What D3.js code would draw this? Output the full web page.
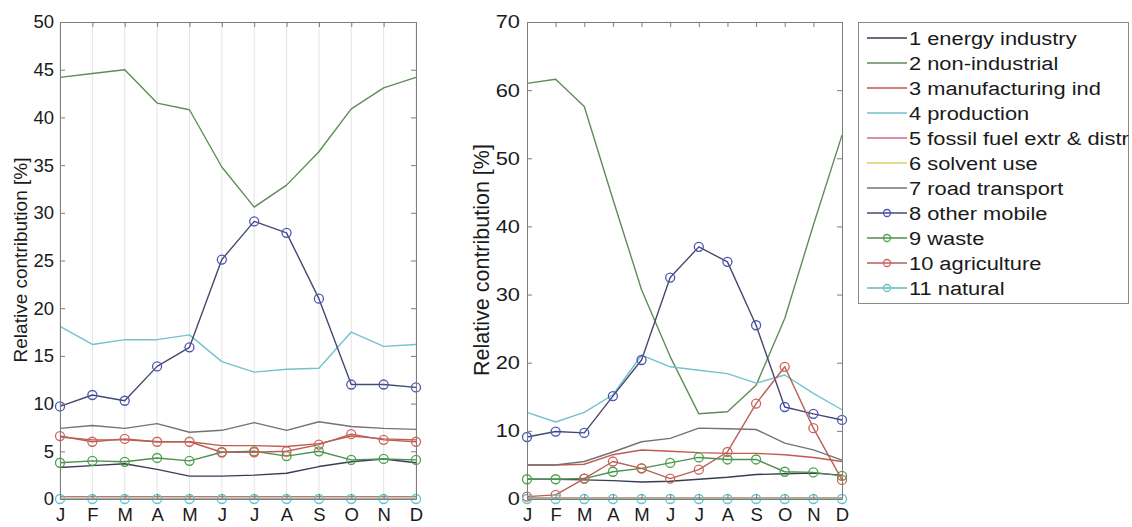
<!DOCTYPE html>
<html>
<head>
<meta charset="utf-8">
<script src="https://cdn.jsdelivr.net/npm/d3@7"></script>
<style>
  html, body { margin: 0; padding: 0; background: #fff; }
  svg { display: block; font-family: "Liberation Sans", Arial, sans-serif; }
</style>
</head>
<body>
<svg id="chart" width="1132" height="527"></svg>
<script>
// Month tick labels
const months = ["J", "F", "M", "A", "M", "J", "J", "A", "S", "O", "N", "D"];

// Source sectors (legend order)
const sectors = [
  "1 energy industry", "2 non-industrial", "3 manufacturing ind", "4 production",
  "5 fossil fuel extr & distr", "6 solvent use", "7 road transport", "8 other mobile",
  "9 waste", "10 agriculture", "11 natural"
];

// Left panel: relative contribution [%] per month
const leftEnergy        = [3.3, 3.5, 3.7, 3.1, 2.4, 2.4, 2.5, 2.7, 3.4, 3.9, 4.2, 3.8];
const leftNonIndustrial = [44.2, 44.6, 45.0, 41.5, 40.8, 34.8, 30.6, 32.9, 36.4, 40.9, 43.1, 44.2];
const leftManufacturing = [6.5, 6.2, 6.2, 6.0, 6.0, 5.6, 5.6, 5.5, 5.8, 6.6, 6.3, 6.2];
const leftProduction    = [18.1, 16.2, 16.7, 16.7, 17.2, 14.4, 13.3, 13.6, 13.7, 17.5, 16.0, 16.2];
const leftFossil        = [0.25, 0.25, 0.25, 0.25, 0.25, 0.25, 0.25, 0.25, 0.25, 0.25, 0.25, 0.25];
const leftSolvent       = [0.1, 0.1, 0.1, 0.1, 0.1, 0.1, 0.1, 0.1, 0.1, 0.1, 0.1, 0.1];
const leftRoad          = [7.4, 7.7, 7.4, 7.9, 7.0, 7.2, 8.0, 7.2, 8.1, 7.6, 7.4, 7.3];
const leftOtherMobile   = [9.7, 10.9, 10.3, 13.9, 15.9, 25.1, 29.1, 27.9, 21.0, 12.0, 12.0, 11.7];
const leftWaste         = [3.8, 4.0, 3.9, 4.3, 4.0, 4.9, 5.0, 4.5, 5.0, 4.1, 4.2, 4.1];
const leftAgriculture   = [6.6, 6.0, 6.3, 6.0, 6.0, 4.9, 4.9, 5.0, 5.7, 6.8, 6.2, 6.0];
const leftNatural       = [0, 0, 0, 0, 0, 0, 0, 0, 0, 0, 0, 0];

// Right panel: relative contribution [%] per month
const rightEnergy        = [2.9, 2.9, 2.8, 2.7, 2.5, 2.6, 2.9, 3.2, 3.6, 3.7, 3.8, 3.5];
const rightNonIndustrial = [61.0, 61.6, 57.6, 44.0, 30.7, 20.9, 12.5, 12.8, 16.7, 26.5, 40.2, 53.4];
const rightManufacturing = [5.0, 5.0, 5.1, 6.5, 7.2, 7.0, 6.8, 6.7, 6.7, 6.5, 6.1, 5.5];
const rightProduction    = [12.7, 11.3, 12.7, 15.3, 21.1, 19.4, 18.9, 18.4, 17.0, 18.2, 15.5, 13.1];
const rightFossil        = [0.2, 0.2, 0.2, 0.2, 0.2, 0.2, 0.2, 0.2, 0.2, 0.2, 0.2, 0.2];
const rightSolvent       = [0.1, 0.1, 0.1, 0.1, 0.1, 0.1, 0.1, 0.1, 0.1, 0.1, 0.1, 0.1];
const rightRoad          = [5.0, 5.0, 5.5, 6.9, 8.4, 8.9, 10.4, 10.3, 10.2, 8.2, 7.2, 5.7];
const rightOtherMobile   = [9.1, 9.9, 9.7, 15.1, 20.4, 32.5, 37.0, 34.8, 25.5, 13.5, 12.5, 11.6];
const rightWaste         = [2.9, 2.9, 3.0, 4.0, 4.5, 5.3, 6.1, 5.8, 5.8, 4.0, 3.9, 3.4];
const rightAgriculture   = [0.35, 0.6, 3.0, 5.5, 4.5, 3.0, 4.3, 6.9, 14.0, 19.4, 10.4, 2.8];
const rightNatural       = [0, 0, 0, 0, 0, 0, 0, 0, 0, 0, 0, 0];

// Line colour, marker colour (null = plain line)
const lineColors   = ["#3a3d52", "#5f8d58", "#c25a50", "#72c2cf", "#c8689a", "#d6cf6a",
                      "#737373", "#46496f", "#4f8f52", "#b5615a", "#6bb4bf"];
const markerColors = [null, null, null, null, null, null, null, "#4a55b8", "#47a447", "#d0645a", "#62c4d0"];

const svg = d3.select("#chart");

function drawPanel(cfg) {
  const x = d3.scaleLinear().domain([0, 11]).range([cfg.x0, cfg.x1]);
  const y = d3.scaleLinear().domain([0, cfg.yMax]).range([499, 22]);
  const g = svg.append("g");

  if (cfg.grid) {
    g.append("g").selectAll("line").data(d3.range(12)).join("line")
      .attr("x1", d => x(d)).attr("x2", d => x(d))
      .attr("y1", y(0)).attr("y2", y(cfg.yMax))
      .attr("stroke", "#e4e4e4").attr("stroke-width", 1);
  }

  const line = d3.line().x((d, i) => x(i)).y(d => y(d));
  cfg.series.forEach((vals, s) => {
    g.append("path").datum(vals)
      .attr("d", line).attr("fill", "none")
      .attr("stroke", lineColors[s]).attr("stroke-width", 1.4)
      .attr("stroke-linejoin", "round");
    if (markerColors[s]) {
      g.append("g").selectAll("circle").data(vals).join("circle")
        .attr("cx", (d, i) => x(i)).attr("cy", d => y(d)).attr("r", 4.5)
        .attr("fill", "none").attr("stroke", markerColors[s]).attr("stroke-width", 1.3);
    }
  });

  const axisColor = "#7d7d7d";
  const style = sel => {
    sel.select(".domain").attr("stroke", axisColor);
    sel.selectAll(".tick line").attr("stroke", axisColor);
    sel.selectAll(".tick text").attr("fill", "#1a1a1a").attr("font-size", 18.5)
      .attr("font-family", "Liberation Sans, Arial, sans-serif");
  };

  const yl = g.append("g").attr("transform", `translate(${cfg.x0},0)`)
    .call(d3.axisLeft(y).tickValues(d3.range(0, cfg.yMax + 1, cfg.yStep))
      .tickSizeInner(-5).tickSizeOuter(0).tickPadding(6))
    .call(style);
  if (cfg.tickStretch !== 1) {
    yl.selectAll(".tick text").attr("transform", `scale(${cfg.tickStretch},1)`);
  }
  g.append("g").attr("transform", `translate(${cfg.x1},0)`)
    .call(d3.axisRight(y).tickValues(d3.range(0, cfg.yMax + 1, cfg.yStep))
      .tickSizeInner(-5).tickSizeOuter(0).tickFormat(""))
    .call(style);
  g.append("g").attr("transform", `translate(0,${y(0)})`)
    .call(d3.axisBottom(x).tickValues(d3.range(12)).tickFormat(i => months[i])
      .tickSizeInner(-5).tickSizeOuter(0).tickPadding(9))
    .call(style);
  g.append("g").attr("transform", `translate(0,${y(cfg.yMax)})`)
    .call(d3.axisTop(x).tickValues(d3.range(12))
      .tickSizeInner(-5).tickSizeOuter(0).tickFormat(""))
    .call(style);

  g.append("text")
    .attr("transform", `translate(${cfg.labelX},260) rotate(-90)`)
    .attr("text-anchor", "middle").attr("font-size", cfg.labelSize).attr("fill", "#1a1a1a")
    .text("Relative contribution [%]");
}

drawPanel({
  x0: 60, x1: 416, yMax: 50, yStep: 5, grid: true, tickStretch: 1,
  labelX: 27, labelSize: 19,
  series: [leftEnergy, leftNonIndustrial, leftManufacturing, leftProduction, leftFossil,
           leftSolvent, leftRoad, leftOtherMobile, leftWaste, leftAgriculture, leftNatural]
});

drawPanel({
  x0: 527, x1: 842, yMax: 70, yStep: 10, grid: false, tickStretch: 1.18,
  labelX: 489, labelSize: 21.5,
  series: [rightEnergy, rightNonIndustrial, rightManufacturing, rightProduction, rightFossil,
           rightSolvent, rightRoad, rightOtherMobile, rightWaste, rightAgriculture, rightNatural]
});

// Legend
const legend = svg.append("g");
legend.append("rect").attr("x", 858.5).attr("y", 22.5).attr("width", 270).attr("height", 281)
  .attr("fill", "#fff").attr("stroke", "#8a8a8a");
const rowY = d3.scaleLinear().domain([0, 10]).range([38, 288]);
sectors.forEach((name, i) => {
  const yy = rowY(i);
  legend.append("line").attr("x1", 867).attr("x2", 907).attr("y1", yy).attr("y2", yy)
    .attr("stroke", lineColors[i]).attr("stroke-width", 1.4);
  if (markerColors[i]) {
    legend.append("circle").attr("cx", 887).attr("cy", yy).attr("r", 3.5)
      .attr("fill", "none").attr("stroke", markerColors[i]).attr("stroke-width", 1.3);
  }
  legend.append("text")
    .attr("transform", `translate(909,${yy}) scale(1.15,1)`)
    .attr("dy", "0.36em").attr("font-size", 19).attr("fill", "#1a1a1a")
    .text(name);
});
</script>
</body>
</html>
